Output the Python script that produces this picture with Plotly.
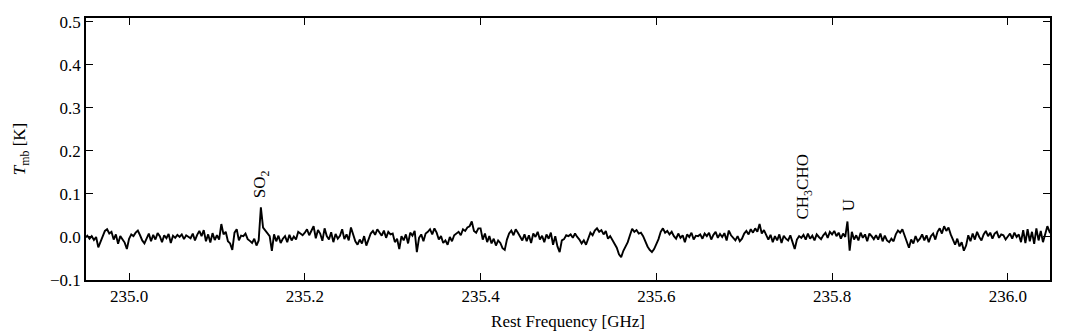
import numpy as np
import plotly.graph_objects as go

# channel grid of the spectrum (GHz)
f_start = 234.950
f_step = 0.0025

# main-beam temperature, in mK (one row = 20 channels = 0.05 GHz)
tmb_mK = [
    -2, 3, -4, 2, -7, 0, -24, -10, 5, 14, 18, 8, 12, -6, 6, -16, 2, -5, -13, -28,
    -4, 6, 2, 10, 15, 4, -8, -15, -3, 8, -10, 5, -6, 9, 2, -12, 4, -3, 7, -14,
    3, -2, 5, 0, 6, -5, 4, 1, -3, 8, -8, 5, 14, 2, 16, -10, 6, -13, 9, -7,
    4, -6, 30, 6, 12, -10, -15, -30, 10, 18, -8, 3, 2, 8, -5, -9, -14, -4, -20, -8,
    69, 22, 15, 8, 2, -32, 6, -10, 3, -14, -4, 2, -12, 5, -8, 1, -6, 12, 8, 4,
    10, 18, 4, 14, 25, -3, 16, 8, -9, 20, 2, -6, 11, -12, 7, -4, 3, 18, -5, 6,
    -8, 22, 4, -10, -18, -6, -15, 2, -20, -4, 8, 14, 5, 18, 10, 3, 15, -2, 12, 6,
    8, -12, -4, -28, 2, -8, 6, -15, 10, 3, 14, -35, -2, 6, -10, 8, 12, 18, 6, 20,
    10, -6, 2, -14, -8, -18, 0, -10, 4, 8, 12, 4, 18, 14, 22, 25, 36, 14, 10, 20,
    20, -6, 8, -12, 2, -15, -4, -20, -8, -14, -26, -30, -6, 8, 15, 4, 18, 10, 2, -8,
    6, -10, 4, -14, 8, 0, 12, -6, 3, -12, 6, -4, 10, -18, 2, -22, -35, -8, -5, 4,
    2, 6, -2, 8, 0, -6, -15, -8, -18, -4, 10, 4, 15, 20, 12, 16, 6, 14, -4, 2,
    -8, -15, -25, -40, -47, -32, -22, -12, 4, 19, 12, 16, 8, 10, 2, -12, -22, -30, -35, -28,
    -18, -5, 12, 20, 10, 14, 6, 12, 2, -4, 8, -2, 4, -12, 6, 0, 10, -6, 3, 2,
    6, -4, 8, 2, 10, -6, 5, 12, -2, 7, 0, 9, -8, 15, 4, -3, -8, 2, -10, -4,
    8, 14, 6, 18, 10, 20, 12, 30, 8, 16, 4, -6, 5, -12, 2, -8, 6, -14, 3, -4,
    -8, 4, -12, -28, -6, 2, -2, 5, -6, 8, -4, 3, -8, 6, 0, -5, 4, 10, -2, 12,
    6, 14, 2, 10, -4, 8, 0, 36, -32, 12, -6, 4, -8, 10, -2, 6, -10, 8, 2, -5,
    4, -6, 8, -10, 3, -8, -12, -4, -10, 6, 15, 10, 18, 4, -12, -25, -6, -15, 2, -10,
    -4, 6, -8, 4, -12, 2, 8, -6, 12, 20, 8, 25, 14, 22, 6, -8, -18, -4, -22, -12,
    -32, -20, 4, -10, 8, -6, 12, 0, -8, 6, 14, 2, 10, -4, 8, 12, -2, 6, 4, -6,
    2, 8, -4, 10, 0, 6, -12, 16, -14, 18, -10, 12, -16, 20, -8, 14, -12, 6, 25, 12,
    18,
]

# line identifications: label, frequency (GHz), T at label base (K)
line_names = ["SO<sub>2</sub>", "CH<sub>3</sub>CHO", "U"]
line_freqs = [235.151, 235.768, 235.818]
line_ypos = [0.085, 0.037, 0.055]

freq = f_start + f_step * np.arange(len(tmb_mK))
tmb = np.array(tmb_mK) / 1000.0

font = "Liberation Serif"
fsize = 17

fig = go.Figure()
fig.add_trace(go.Scatter(x=freq, y=tmb, mode="lines",
                         line=dict(color="black", width=1.9), showlegend=False))

for name, fx, fy in zip(line_names, line_freqs, line_ypos):
    fig.add_annotation(x=fx, y=fy, text=name, textangle=-90, showarrow=False,
                       xanchor="center", yanchor="bottom",
                       font=dict(family=font, size=fsize, color="black"))

axis_common = dict(showline=True, linecolor="black", linewidth=1.5, mirror="ticks",
                   ticks="inside", ticklen=7, tickwidth=1.2, tickcolor="black",
                   showgrid=False, zeroline=False,
                   tickfont=dict(family=font, size=fsize, color="black"))

fig.update_xaxes(range=[234.951, 236.048], tick0=235.0, dtick=0.2, tickformat=".1f",
                 title=dict(text="Rest Frequency [GHz]", standoff=10,
                            font=dict(family=font, size=fsize, color="black")),
                 **axis_common)
fig.update_yaxes(range=[-0.1, 0.509], tick0=0.0, dtick=0.1, tickformat=".1f",
                 title=dict(text="<i>T</i><sub>mb</sub> [K]", standoff=20,
                            font=dict(family=font, size=fsize, color="black")),
                 **axis_common)

# margins allow for the page's 8 px body offset
fig.update_layout(width=1072, height=331, plot_bgcolor="white", paper_bgcolor="white",
                  margin=dict(l=78, r=30, t=5, b=59))

fig.write_html("out.html")
